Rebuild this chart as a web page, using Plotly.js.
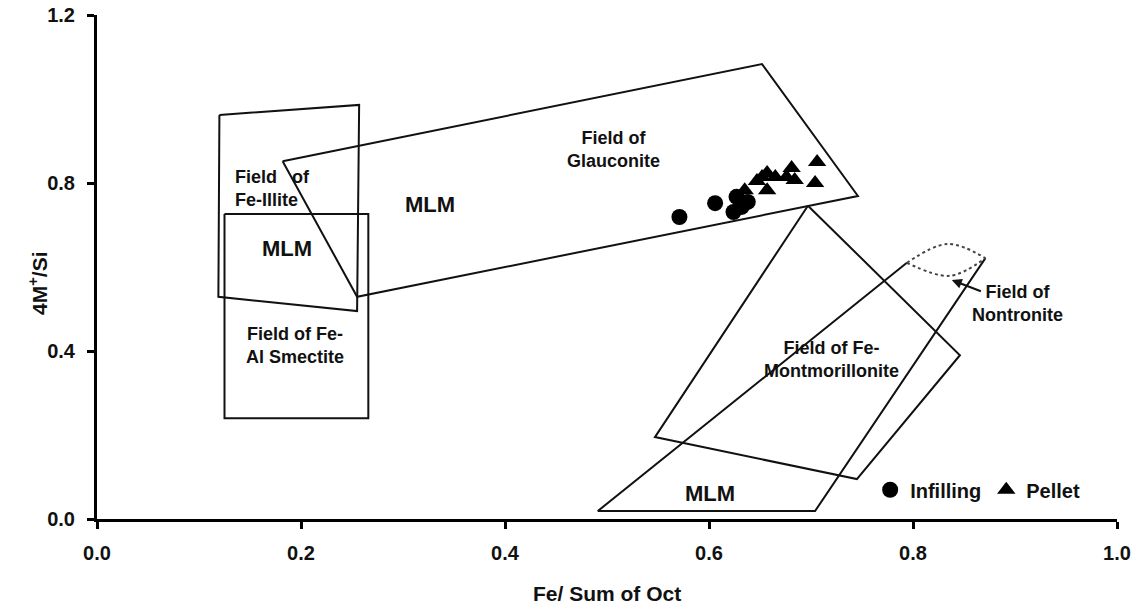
<!DOCTYPE html>
<html>
<head>
<meta charset="utf-8">
<script src="https://cdn.plot.ly/plotly-3.0.1.min.js"></script>
<style>html,body{margin:0;padding:0;background:#fff;}#chart{width:1136px;height:615px;}</style>
</head>
<body>
<div id="chart"></div>
<script>
// ---- data ----
const infillingX = [0.571, 0.606, 0.624, 0.627, 0.638, 0.632];
const infillingY = [0.719, 0.752, 0.731, 0.767, 0.755, 0.743];
const pelletX = [0.635, 0.647, 0.652, 0.657, 0.657, 0.665, 0.676, 0.681, 0.684, 0.706, 0.704];
const pelletY = [0.783, 0.805, 0.814, 0.824, 0.783, 0.814, 0.814, 0.836, 0.807, 0.850, 0.800];

const illiteX = [0.120, 0.257, 0.255, 0.119, 0.120];
const illiteY = [0.962, 0.986, 0.495, 0.529, 0.962];
const smectiteX = [0.125, 0.266, 0.266, 0.125, 0.125];
const smectiteY = [0.726, 0.726, 0.240, 0.240, 0.726];
const glauconiteX = [0.182, 0.652, 0.746, 0.255, 0.182];
const glauconiteY = [0.852, 1.083, 0.769, 0.529, 0.852];
const montX = [0.697, 0.846, 0.745, 0.547, 0.697];
const montY = [0.746, 0.390, 0.095, 0.195, 0.746];
const mlmX = [0.794, 0.491, 0.704, 0.871];
const mlmY = [0.610, 0.019, 0.019, 0.621];
const lensTopX = [0.794, 0.834, 0.871];
const lensTopY = [0.610, 0.655, 0.621];
const lensBotX = [0.794, 0.836, 0.871];
const lensBotY = [0.610, 0.579, 0.621];

const xTickVals = [0, 0.2, 0.4, 0.6, 0.8, 1.0];
const yTickVals = [0, 0.4, 0.8, 1.2];

const FONT = 'Liberation Sans, Arial, sans-serif';

function outline(x, y) {
  return {x: x, y: y, mode: 'lines', type: 'scatter', showlegend: false, hoverinfo: 'skip',
          line: {color: '#111', width: 2}};
}
const traces = [
  outline(illiteX, illiteY),
  outline(smectiteX, smectiteY),
  outline(glauconiteX, glauconiteY),
  outline(montX, montY),
  outline(mlmX, mlmY),
  {x: lensTopX, y: lensTopY, mode: 'lines', type: 'scatter', showlegend: false, hoverinfo: 'skip',
   line: {color: '#444', width: 2, dash: 'dot', shape: 'spline'}},
  {x: lensBotX, y: lensBotY, mode: 'lines', type: 'scatter', showlegend: false, hoverinfo: 'skip',
   line: {color: '#444', width: 2, dash: 'dot', shape: 'spline'}},
  {x: infillingX, y: infillingY, mode: 'markers', type: 'scatter', name: 'Infilling',
   marker: {symbol: 'circle', size: 16, color: '#000'}},
  {x: pelletX, y: pelletY, mode: 'markers', type: 'scatter', name: 'Pellet',
   marker: {symbol: 'triangle-up', size: 16, color: '#000'}}
];

function lab(text, x, y, size, extra) {
  return Object.assign({text: text, x: x, y: y, xref: 'x', yref: 'y', showarrow: false,
    font: {family: FONT, size: size, color: '#111', weight: 'bold'}, align: 'center'}, extra || {});
}

const annotations = [
  lab('Field of<br>Glauconite', 0.506, 0.879, 18),
  lab('MLM', 0.326, 0.748, 22),
  lab('Field\u00A0\u00A0\u00A0of<br>Fe-Illite', 0.133, 0.788, 18, {xanchor: 'left', align: 'left'}),
  lab('MLM', 0.186, 0.643, 22),
  lab('Field of Fe-<br>Al Smectite', 0.194, 0.412, 18),
  lab('Field of Fe-<br>Montmorillonite', 0.720, 0.379, 18),
  lab('MLM', 0.601, 0.060, 22),
  lab('Field of<br>Nontronite', 0.902, 0.512, 18),
  {x: 0.838, y: 0.569, ax: 0.868, ay: 0.541, xref: 'x', yref: 'y', axref: 'x', ayref: 'y',
   text: '', showarrow: true, arrowhead: 2, arrowsize: 1, arrowwidth: 2, arrowcolor: '#111'},
  {text: '4M<sup>+</sup>/Si', xref: 'paper', yref: 'paper', x: -0.058, y: 0.468, textangle: -90,
   xanchor: 'center', yanchor: 'middle',
   showarrow: false, font: {family: FONT, size: 21, color: '#111', weight: 'bold'}},
  {text: 'Fe/ Sum of Oct', xref: 'paper', yref: 'paper', x: 0.5, y: -0.147,
   xanchor: 'center', yanchor: 'middle',
   showarrow: false, font: {family: FONT, size: 21, color: '#111', weight: 'bold'}}
];

const layout = {
  width: 1136, height: 615,
  margin: {l: 97, r: 19, t: 15, b: 96},
  paper_bgcolor: '#fff', plot_bgcolor: '#fff',
  font: {family: FONT, color: '#111'},
  xaxis: {range: [0, 1], tickvals: xTickVals, tickformat: '.1f', showgrid: false, zeroline: false,
          showline: true, linecolor: '#000', linewidth: 3, ticks: 'outside', ticklen: 7, tickwidth: 3,
          tickcolor: '#000', ticklabelstandoff: 7,
          tickfont: {family: FONT, size: 20, color: '#111', weight: 'bold'}},
  yaxis: {range: [0, 1.2], tickvals: yTickVals, tickformat: '.1f', showgrid: false, zeroline: false,
          showline: true, linecolor: '#000', linewidth: 3, ticks: 'outside', ticklen: 7, tickwidth: 3,
          tickcolor: '#000', ticklabelstandoff: 8,
          tickfont: {family: FONT, size: 20, color: '#111', weight: 'bold'}},
  showlegend: true,
  legend: {orientation: 'h', x: 0.758, xanchor: 'left', y: 0.058, yanchor: 'middle',
           bgcolor: 'rgba(0,0,0,0)', font: {family: FONT, size: 20, color: '#111', weight: 'bold'}},
  annotations: annotations
};

Plotly.newPlot('chart', traces, layout, {displayModeBar: false, staticPlot: true});
</script>
</body>
</html>
